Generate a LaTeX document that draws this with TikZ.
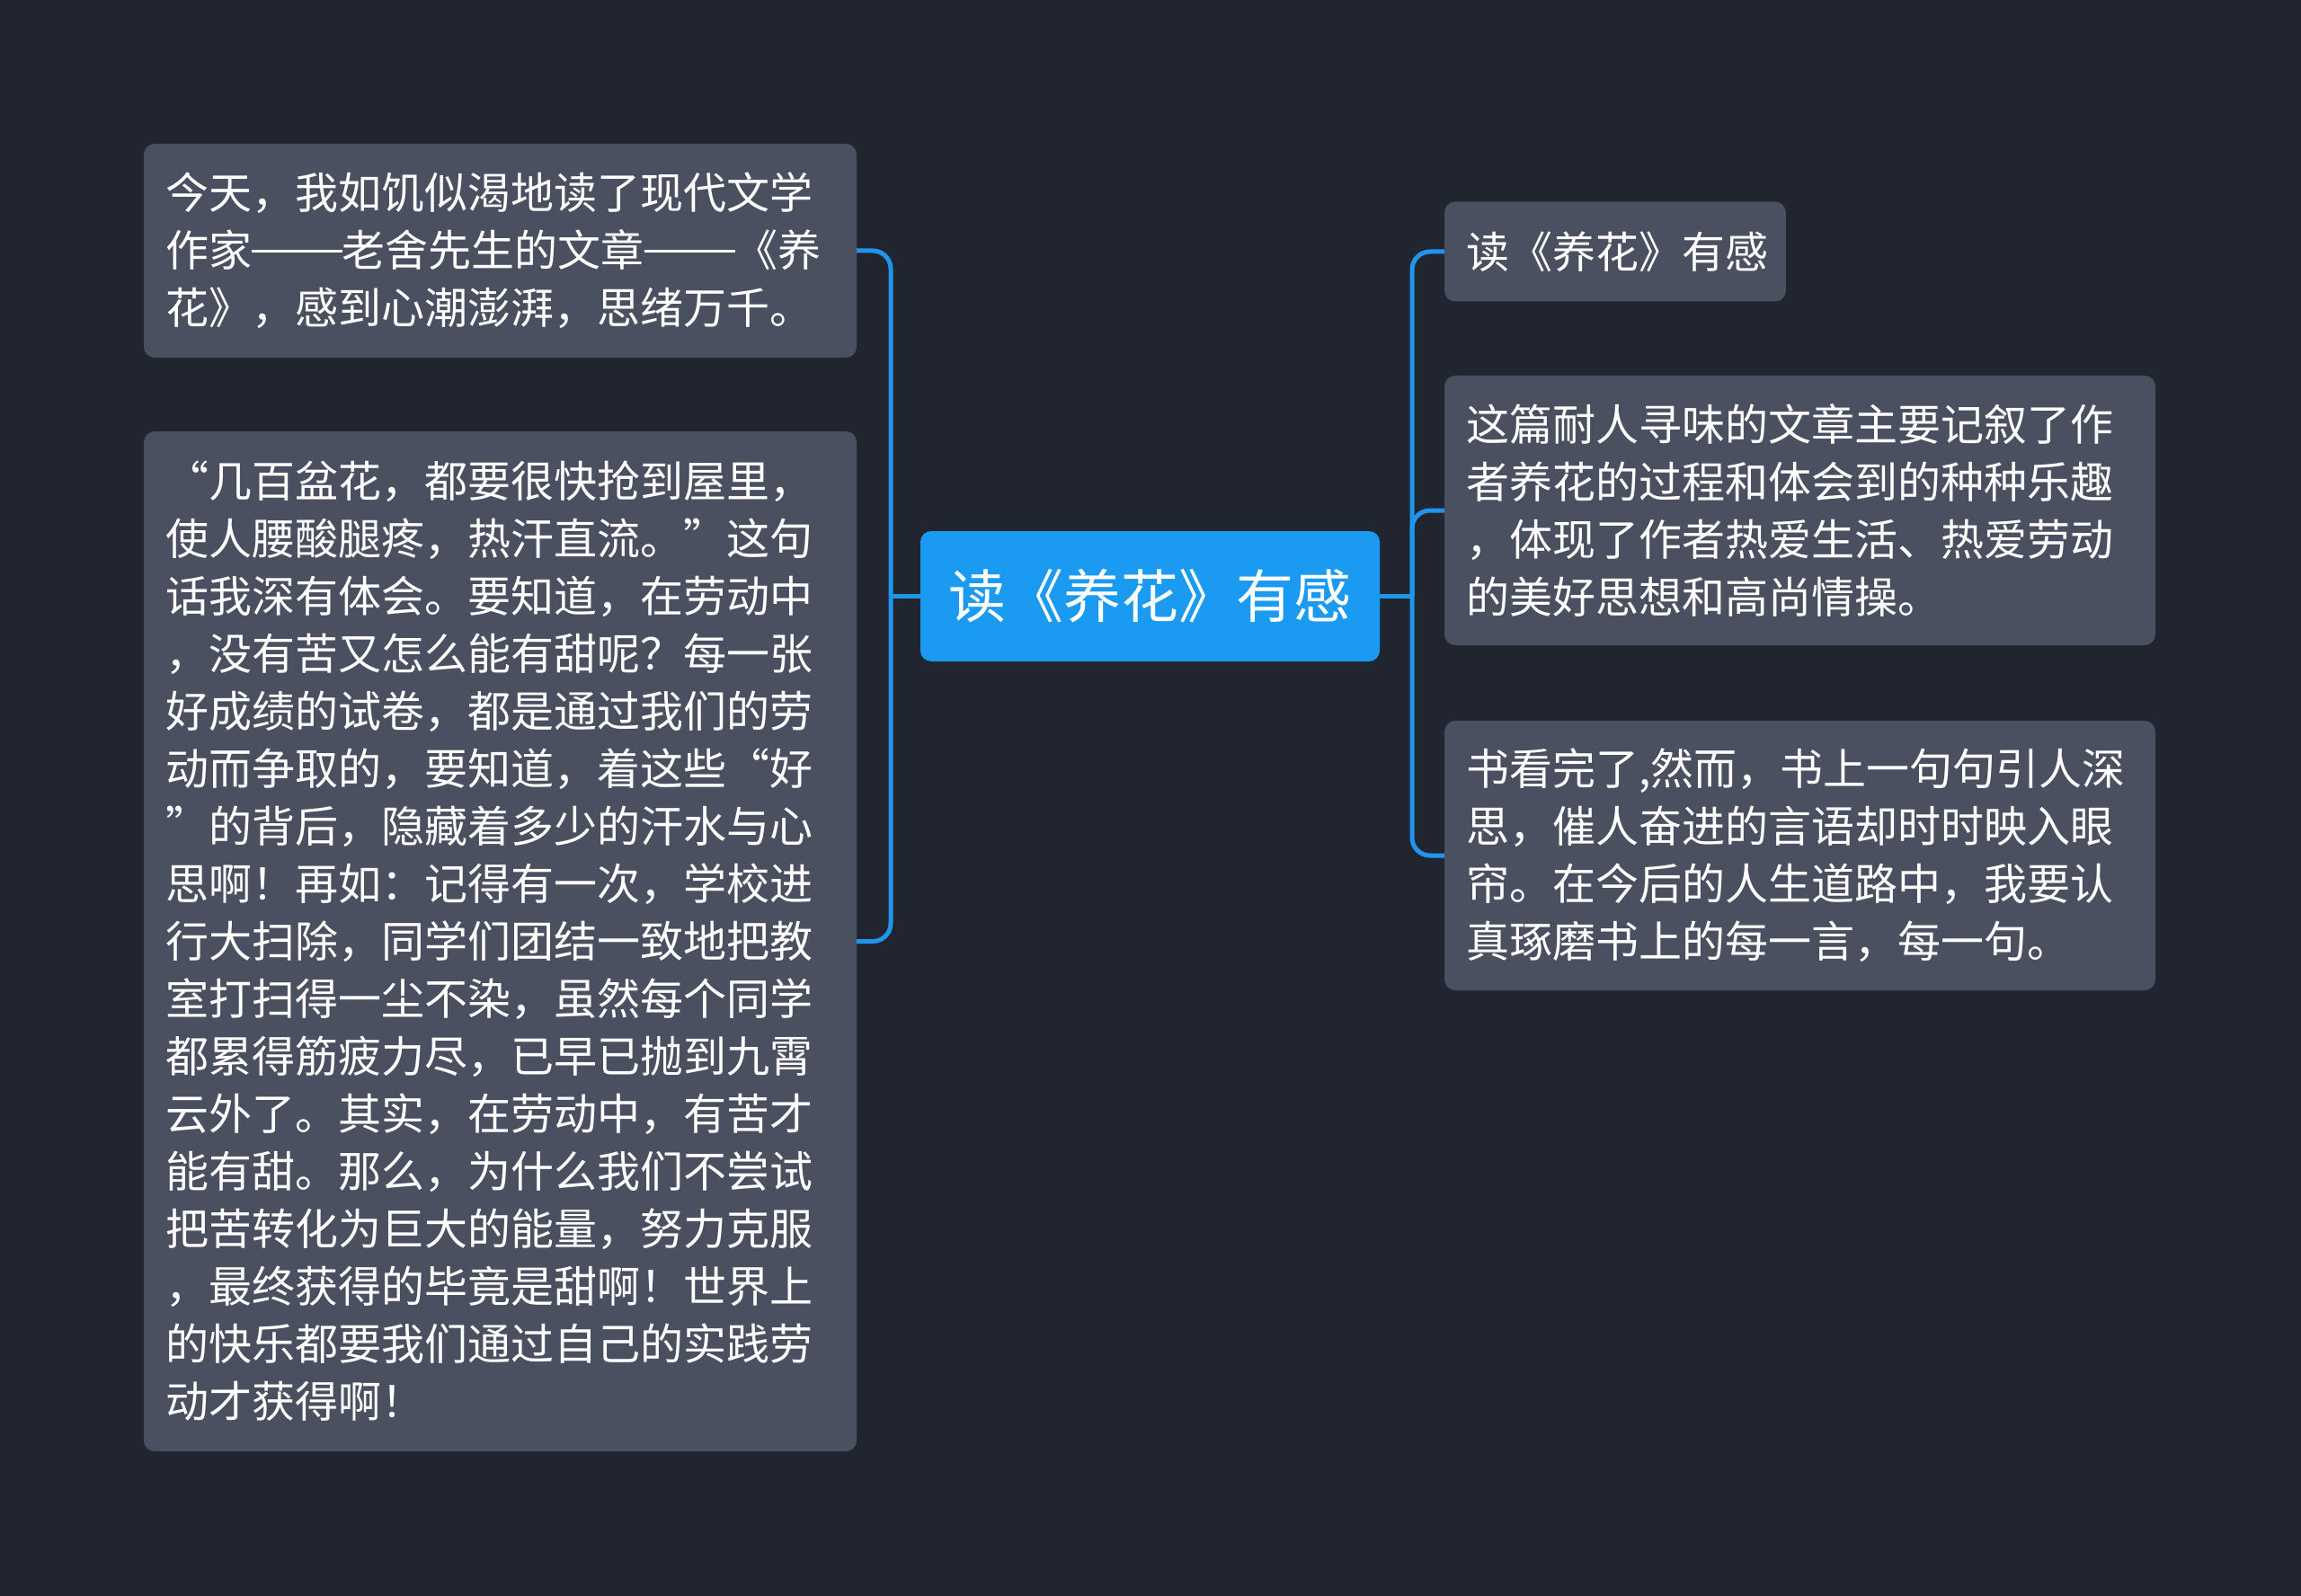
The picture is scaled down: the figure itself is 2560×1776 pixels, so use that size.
\documentclass[tikz,border=0pt]{standalone}
\usepackage{fontspec}
\newfontfamily\cjk{Noto Sans CJK SC}
\definecolor{bg}{HTML}{21252F}
\definecolor{nodefill}{HTML}{4A5060}
\definecolor{rootfill}{HTML}{1A9AF0}
\definecolor{linkc}{HTML}{1F96EC}
\newcommand\cjkdashes{\rule[0.33em]{2.1em}{0.065em}}
\begin{document}
\begin{tikzpicture}[x=1pt,y=-1pt,
  topic/.style={rounded corners=12pt, fill=nodefill, text=white,
    font={\cjk\fontsize{48}{64}\selectfont}, align=left,
    inner xsep=24pt, inner ysep=0pt, anchor=center},
  rootbox/.style={rounded corners=12pt, fill=rootfill, text=white,
    font={\cjk\fontsize{64}{76}\selectfont},
    minimum width=511pt, minimum height=145pt, inner sep=0pt, anchor=center},
  link/.style={draw=linkc, line width=5pt, rounded corners=20pt}]
\fill[bg] (0,0) rectangle (2560,1776);
\useasboundingbox (0,0) rectangle (2560,1776);

\node[rootbox] (c) at (1279.5,663.5) {读《养花》有感};

\node[topic, text width=745pt, minimum height=238pt] (l1) at (556.5,279)
{今天，我如饥似渴地读了现代文学\\作家\cjkdashes 老舍先生的文章\cjkdashes《养\\花》，感到心潮澎湃，思绪万千。};

\node[topic, text width=745pt, minimum height=1135pt] (l2) at (556.5,1047.5)
{“几百盆花，都要很快抢到屋里，\\使人腰酸腿疼，热汗直流。”这句\\话我深有体会。要知道，在劳动中\\，没有苦又怎么能有甜呢？每一张\\好成绩的试卷，都是通过我们的劳\\动而争取的，要知道，着这些“好\\”的背后，隐藏着多少的汗水与心\\思啊！再如：记得有一次，学校进\\行大扫除，同学们团结一致地把教\\室打扫得一尘不染，虽然每个同学\\都累得筋疲力尽，已早已抛到九霄\\云外了。其实，在劳动中，有苦才\\能有甜。那么，为什么我们不尝试\\把苦转化为巨大的能量，努力克服\\，最终获得的毕竟是甜啊！世界上\\的快乐都要我们通过自己的实践劳\\动才获得啊！};

\node[topic, text width=332pt, minimum height=111pt] (r1) at (1797,280)
{读《养花》有感};

\node[topic, text width=743pt, minimum height=300pt] (r2) at (2002.5,568)
{这篇耐人寻味的文章主要记叙了作\\者养花的过程和体会到的种种乐趣\\，体现了作者热爱生活、热爱劳动\\的美好思想和高尚情操。};

\node[topic, text width=743pt, minimum height=300pt] (r3) at (2002.5,952)
{书看完了,然而，书上一句句引人深\\思，催人奋进的言语却时时映入眼\\帘。在今后的人生道路中，我要认\\真琢磨书上的每一言，每一句。};

\coordinate (lbus) at (991,663.5);
\coordinate (rbus) at (1571,663.5);

\draw[link] (c.west) -- (lbus);
\draw[link] (lbus) |- (l1.east);
\draw[link] (lbus) |- (l2.east);

\draw[link] (c.east) -- (rbus);
\draw[link] (rbus) |- (r1.west);
\draw[link] (rbus) |- (r2.west);
\draw[link] (rbus) |- (r3.west);
\end{tikzpicture}
\end{document}
